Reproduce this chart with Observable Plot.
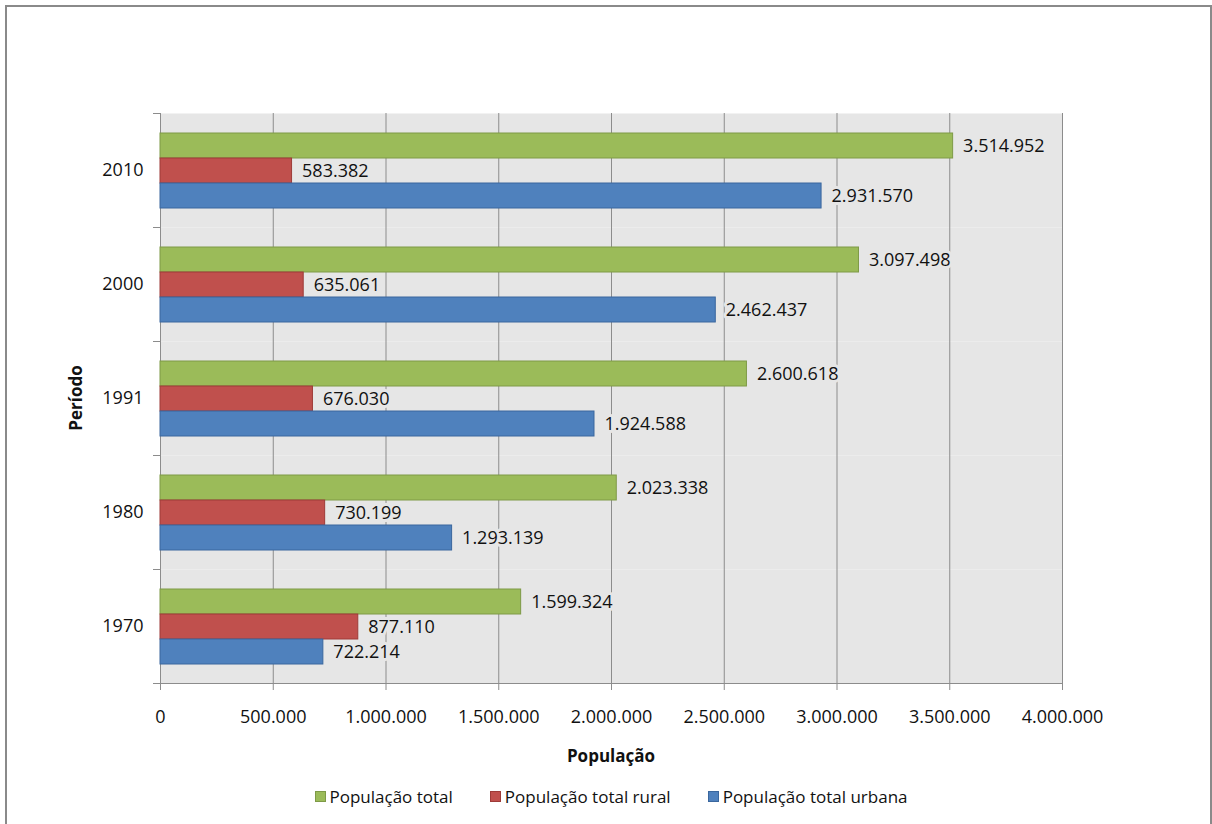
<!DOCTYPE html>
<html>
<head>
<meta charset="utf-8">
<script src="https://cdn.jsdelivr.net/npm/d3@7"></script>
<script src="https://cdn.jsdelivr.net/npm/@observablehq/plot@0.6"></script>
<style>
  body { margin: 0; background: #fff; font-family: "Open Sans", sans-serif; }
  #border { position: absolute; left: 5px; top: 5px; width: 1207px; height: 840px; border: 2px solid #8a8a8a; box-sizing: border-box; }
  #chart { position: absolute; left: 0; top: 0; }
  .atitle { position: absolute; font-weight: bold; font-size: 17px; color: #111; white-space: nowrap; }
  #xtitle { left: 611px; top: 755px; transform: translate(-50%, -50%); }
  #ytitle { left: 75px; top: 398px; transform: translate(-50%, -50%) rotate(-90deg); }
  #legend { position: absolute; left: 160px; width: 902px; top: 785px; display: flex; justify-content: center; gap: 37px; font-size: 17px; color: #111; }
  .item { display: flex; align-items: center; gap: 4px; }
  .sw { width: 11px; height: 11px; box-sizing: border-box; border: 1px solid; }
</style>
</head>
<body>
<div id="border"></div>
<div id="chart"></div>
<div class="atitle" id="xtitle">População</div>
<div class="atitle" id="ytitle">Período</div>
<div id="legend"></div>
<script>
const periods = ["2010", "2000", "1991", "1980", "1970"];
const seriesNames = ["População total", "População total rural", "População total urbana"];
const popTotal = [3514952, 3097498, 2600618, 2023338, 1599324];
const popRural = [583382, 635061, 676030, 730199, 877110];
const popUrbana = [2931570, 2462437, 1924588, 1293139, 722214];
const xTicks = [0, 500000, 1000000, 1500000, 2000000, 2500000, 3000000, 3500000, 4000000];
const fills = ["#9BBB59", "#C0504D", "#4F81BD"];
const strokes = ["#7E9A47", "#9E3B38", "#3A679E"];

const seriesValues = [popTotal, popRural, popUrbana];
const rows = [];
periods.forEach((p, i) => {
  seriesNames.forEach((s, j) => {
    rows.push({period: p, series: s, value: seriesValues[j][i]});
  });
});

const fmt = d3.formatLocale({decimal: ",", thousands: ".", grouping: [3], currency: ["", ""]}).format(",d");
const grid = "#8c8c8c";
const bg = "#e6e6e6";

const chart = Plot.plot({
  width: 1212,
  height: 775,
  marginLeft: 160,
  marginRight: 150,
  marginTop: 113,
  marginBottom: 92,
  style: {fontFamily: "'Open Sans', sans-serif", fontSize: "18px", color: "#111", background: "transparent"},
  x: {domain: [0, 4000000], ticks: xTicks},
  y: {domain: seriesNames, paddingInner: 0, paddingOuter: 0.753, axis: null},
  fy: {domain: periods, padding: 0, label: null},
  marks: [
    Plot.frame({fill: bg}),
    Plot.gridX(xTicks, {stroke: grid, strokeOpacity: 1}),
    Plot.frame({anchor: "left", stroke: grid}),
    Plot.frame({anchor: "top", stroke: grid, insetLeft: -7, insetRight: 902}),
    Plot.frame({anchor: "bottom", facetAnchor: "bottom", stroke: grid, insetLeft: -7}),
    ...seriesNames.map((s, j) => Plot.barX(rows.filter(d => d.series === s), {
      x: "value", y: "series", fy: "period", fill: fills[j], stroke: strokes[j], strokeWidth: 1
    })),
    Plot.text(rows, {
      x: "value", y: "series", fy: "period", text: d => fmt(d.value),
      textAnchor: "start", dx: 10, fill: "#111", stroke: bg, strokeWidth: 6,
      strokeLinejoin: "round", paintOrder: "stroke", fontSize: 18
    }),
    Plot.axisX(xTicks, {tickSize: 7, tickPadding: 20, tickFormat: fmt, stroke: grid, fill: "#111", label: null, fontSize: 18}),
    Plot.axisFy({anchor: "left", tickSize: 0, tickPadding: 17, label: null, fill: "#111", fontSize: 18})
  ]
});
document.getElementById("chart").appendChild(chart);

const legend = document.getElementById("legend");
seriesNames.forEach((s, j) => {
  const item = document.createElement("div");
  item.className = "item";
  const sw = document.createElement("span");
  sw.className = "sw";
  sw.style.background = fills[j];
  sw.style.borderColor = strokes[j];
  const t = document.createElement("span");
  t.textContent = s;
  item.appendChild(sw);
  item.appendChild(t);
  legend.appendChild(item);
});
</script>
</body>
</html>
